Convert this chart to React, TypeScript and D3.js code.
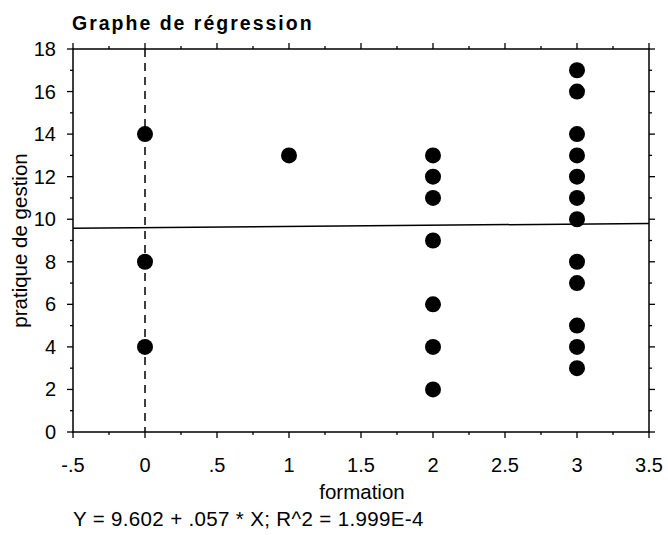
import React from "react";
import * as d3 from "d3";

const formation = [0, 0, 0, 1, 2, 2, 2, 2, 2, 2, 2, 3, 3, 3, 3, 3, 3, 3, 3, 3, 3, 3, 3];
const pratique = [14, 8, 4, 13, 13, 12, 11, 9, 6, 4, 2, 17, 16, 14, 13, 12, 11, 10, 8, 7, 5, 4, 3];
const xTicks = [-0.5, 0, 0.5, 1, 1.5, 2, 2.5, 3, 3.5];
const xTickLabels = ["-.5", "0", ".5", "1", "1.5", "2", "2.5", "3", "3.5"];
const yTicks = [0, 2, 4, 6, 8, 10, 12, 14, 16, 18];
const intercept = 9.602;
const slope = 0.057;

export default function App() {
  const W = 668, H = 535;
  const left = 73, right = 649, top = 49, bottom = 432;
  const x = d3.scaleLinear().domain([-0.5, 3.5]).range([left, right]);
  const y = d3.scaleLinear().domain([0, 18]).range([bottom, top]);
  const font = "Liberation Sans, Arial, sans-serif";
  const xMinor = d3.range(-0.25, 3.5, 0.5);
  const yMinor = d3.range(1, 18, 2);
  const line = d3.line<number>().x(d => x(d)).y(d => y(intercept + slope * d));
  return (
    <svg width={W} height={H} style={{ position: "absolute", left: 0, top: 0, background: "#fff" }}>
      <rect x={0} y={0} width={W} height={H} fill="#fff" />
      <text x={72} y={30} fontFamily={font} fontWeight="bold" fontSize={19.5} letterSpacing={2}>Graphe de régression</text>
      <rect x={left} y={top} width={right - left} height={bottom - top} fill="none" stroke="#000" strokeWidth={1.5} />
      {xTicks.map((t, i) => (
        <g key={"xt" + i}>
          <line x1={x(t)} x2={x(t)} y1={bottom} y2={bottom + 6} stroke="#000" strokeWidth={1.3} />
          <line x1={x(t)} x2={x(t)} y1={top} y2={top - 6} stroke="#000" strokeWidth={1.3} />
          <text x={x(t)} y={472} textAnchor="middle" fontFamily={font} fontSize={20}>{xTickLabels[i]}</text>
        </g>
      ))}
      {xMinor.map((t, i) => (
        <g key={"xm" + i}>
          <line x1={x(t)} x2={x(t)} y1={bottom} y2={bottom + 3} stroke="#000" strokeWidth={1.3} />
          <line x1={x(t)} x2={x(t)} y1={top} y2={top - 3} stroke="#000" strokeWidth={1.3} />
        </g>
      ))}
      {yTicks.map((t, i) => (
        <g key={"yt" + i}>
          <line x1={left} x2={left - 6} y1={y(t)} y2={y(t)} stroke="#000" strokeWidth={1.3} />
          <line x1={right} x2={right + 6} y1={y(t)} y2={y(t)} stroke="#000" strokeWidth={1.3} />
          <text x={56} y={y(t) + 7} textAnchor="end" fontFamily={font} fontSize={20}>{t}</text>
        </g>
      ))}
      {yMinor.map((t, i) => (
        <g key={"ym" + i}>
          <line x1={left} x2={left - 3} y1={y(t)} y2={y(t)} stroke="#000" strokeWidth={1.3} />
          <line x1={right} x2={right + 3} y1={y(t)} y2={y(t)} stroke="#000" strokeWidth={1.3} />
        </g>
      ))}
      <line x1={x(0)} x2={x(0)} y1={top} y2={bottom} stroke="#000" strokeWidth={1.5} strokeDasharray="8,6" />
      <path d={line([-0.5, 3.5]) || ""} fill="none" stroke="#000" strokeWidth={1.5} />
      {formation.map((f, i) => (
        <circle key={"p" + i} cx={x(f)} cy={y(pratique[i])} r={8} fill="#000" />
      ))}
      <text x={362} y={499} textAnchor="middle" fontFamily={font} fontSize={20.5}>formation</text>
      <text transform={`translate(27,${(top + bottom) / 2}) rotate(-90)`} textAnchor="middle" fontFamily={font} fontSize={20.5}>pratique de gestion</text>
      <text x={73} y={526} fontFamily={font} fontSize={20.5} letterSpacing={0.35}>Y = 9.602 + .057 * X; R^2 = 1.999E-4</text>
    </svg>
  );
}
